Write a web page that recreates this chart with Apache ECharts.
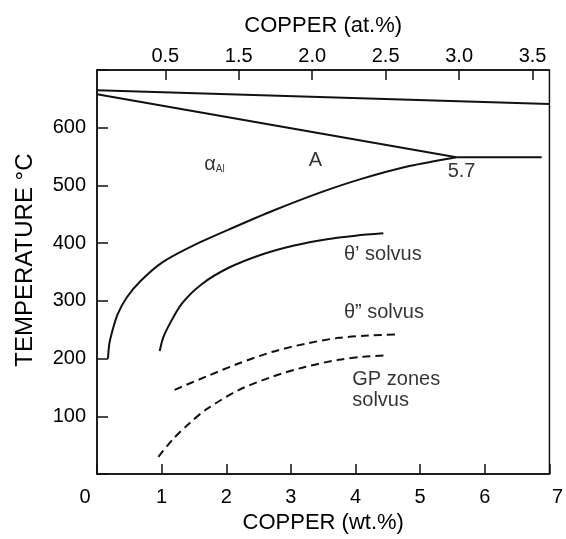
<!DOCTYPE html>
<html><head><meta charset="utf-8">
<script src="https://cdn.jsdelivr.net/npm/echarts@6/dist/echarts.min.js"></script>
<style>html,body{margin:0;padding:0;background:#fff}#c{width:566px;height:539px}</style>
</head><body><div id="c"></div>
<script>
// ---- data (wt.% Cu, temperature °C) ----
const xTicksWt = [0, 1, 2, 3, 4, 5, 6, 7];
const yTicks = [100, 200, 300, 400, 500, 600];
const topTickPos = [0.5, 1.0, 1.5, 2.0, 2.5, 3.0];
const topTickLabels = ['0.5', '1.5', '2.0', '2.5', '3.0', '3.5'];
const upperLine = [[0, 665], [7, 641]];
const liquidus = [[0, 658], [5.56, 549]];
const eutectic = [[5.56, 549], [6.88, 549]];
const solvus = [[0.17, 200], [0.19, 225], [0.23, 245], [0.32, 277], [0.46, 306], [0.67, 334], [1.0, 366], [1.51, 397], [2.13, 428], [2.74, 457], [3.46, 488], [4.08, 511], [4.85, 534], [5.56, 549]];
const thetaPrime = [[0.97, 213], [1.02, 235], [1.1, 255], [1.31, 295], [1.62, 329], [2.03, 357], [2.54, 380], [3.05, 396], [3.56, 407], [4.0, 413], [4.43, 417]];
const thetaDouble = [[1.2, 146], [1.69, 169], [2.2, 192], [2.72, 212], [3.23, 226], [3.74, 236], [4.2, 240], [4.64, 242]];
const gpZones = [[0.95, 30], [1.18, 61], [1.44, 89], [1.69, 112], [2.2, 146], [2.72, 169], [3.23, 186], [3.74, 198], [4.1, 203], [4.51, 206]];
const annotationTexts = ['{a|α}{s|Al}', 'A', '5.7', 'θ’ solvus', 'θ” solvus', 'GP zones\nsolvus'];
const annotationAt = [[1.66, 537], [3.38, 544], [5.64, 524], [3.82, 380], [3.82, 280], [3.95, 146]];
const annotationAlign = ['left', 'center', 'center', 'left', 'left', 'left'];

const FONT = 'Liberation Sans, Arial, Helvetica, sans-serif';
const INK = '#000';

const chart = echarts.init(document.getElementById('c'), null, {renderer: 'canvas'});

function lineSeries(data, dashed) {
  return {
    type: 'line', data: data, showSymbol: false, smooth: 0.3,
    xAxisIndex: 0, yAxisIndex: 0, silent: true,
    lineStyle: {color: '#111', width: 2, type: dashed ? [8, 5] : 'solid'}
  };
}

const annData = annotationTexts.map((t, i) => ({
  value: annotationAt[i],
  label: {formatter: t, align: annotationAlign[i]}
}));

const option = {
  backgroundColor: '#fff',
  animation: false,
  grid: {left: 97, right: 14, top: 70, bottom: 60, show: true, borderColor: '#111', borderWidth: 1.5, backgroundColor: 'transparent'},
  xAxis: [
    {
      type: 'value', min: 0, max: 7, interval: 1, position: 'bottom',
      name: 'COPPER (wt.%)', nameLocation: 'middle', nameGap: 37,
      nameTextStyle: {fontFamily: FONT, fontSize: 22, color: INK},
      axisLine: {show: true, lineStyle: {color: '#111', width: 1.5}},
      axisTick: {show: true, inside: true, length: 10, lineStyle: {color: '#111', width: 1.5}},
      splitLine: {show: false},
      axisLabel: {
        margin: 13, fontFamily: FONT, fontSize: 20, color: INK,
        formatter: v => v === 0 ? '{l|0}' : (v === 7 ? '{r|7}' : '{n|' + v + '}'),
        rich: {
          l: {fontFamily: FONT, fontSize: 20, color: INK, padding: [0, 24, 0, 0]},
          r: {fontFamily: FONT, fontSize: 20, color: INK, padding: [0, 0, 0, 16]},
          n: {fontFamily: FONT, fontSize: 20, color: INK}
        }
      }
    },
    {
      type: 'value', min: 0.035, max: 3.115, position: 'top',
      name: 'COPPER (at.%)', nameLocation: 'middle', nameGap: 33,
      nameTextStyle: {fontFamily: FONT, fontSize: 22, color: INK},
      axisLine: {show: true, lineStyle: {color: '#111', width: 1.5}},
      axisTick: {show: true, inside: true, length: 10, customValues: topTickPos, lineStyle: {color: '#111', width: 1.5}},
      splitLine: {show: false},
      axisLabel: {
        margin: 4, fontFamily: FONT, fontSize: 20, color: INK, customValues: topTickPos,
        formatter: v => {
          const i = topTickPos.findIndex(p => Math.abs(p - v) < 1e-6);
          return i >= 0 ? topTickLabels[i] : '';
        }
      }
    }
  ],
  yAxis: [{
    type: 'value', min: 0, max: 700, interval: 100,
    name: 'TEMPERATURE °C', nameLocation: 'middle', nameGap: 60, nameRotate: 90,
    nameTextStyle: {fontFamily: FONT, fontSize: 24, color: INK, padding: [0, 0, 0, 24]},
    axisLine: {show: true, lineStyle: {color: '#111', width: 1.5}},
    axisTick: {show: true, inside: true, length: 11, lineStyle: {color: '#111', width: 1.5}},
    splitLine: {show: false},
    axisLabel: {
      margin: 11, fontFamily: FONT, fontSize: 20, color: INK,
      formatter: v => (yTicks.indexOf(v) >= 0 ? String(v) : '')
    }
  }],
  series: [
    lineSeries(upperLine, false),
    lineSeries(liquidus, false),
    lineSeries(eutectic, false),
    lineSeries(solvus, false),
    lineSeries(thetaPrime, false),
    lineSeries(thetaDouble, true),
    lineSeries(gpZones, true),
    {
      type: 'scatter', symbolSize: 0, silent: true, xAxisIndex: 0, yAxisIndex: 0,
      data: annData,
      label: {
        show: true, position: [0, 0], verticalAlign: 'middle',
        fontFamily: FONT, fontSize: 20, color: INK, lineHeight: 21,
        rich: {
          a: {fontFamily: FONT, fontSize: 20, color: INK, verticalAlign: 'bottom', lineHeight: 20},
          s: {fontFamily: FONT, fontSize: 10, color: INK, verticalAlign: 'bottom', lineHeight: 14}
        }
      }
    }
  ]
};
chart.setOption(option);
</script>
</body></html>
